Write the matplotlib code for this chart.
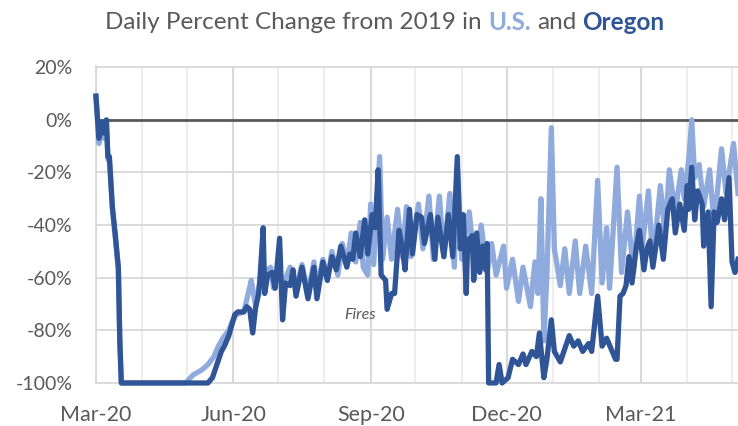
import pandas as pd
import matplotlib
matplotlib.use("Agg")
import matplotlib.pyplot as plt
import matplotlib.dates as mdates

# days since 2020-03-01, percent change vs 2019
or_days = [0, 2, 4, 5, 7, 8, 9, 11, 13, 15, 16, 17, 75, 78, 81, 84, 86, 89, 91, 93,
           95, 99, 101, 103, 105, 107, 109, 110, 112, 113, 115, 118, 120, 123, 125, 127, 130, 132, 134, 138,
           142, 146, 148, 152, 155, 158, 161, 164, 168, 170, 172, 174, 177, 180, 182, 185, 187, 189, 191, 194,
           195, 198, 200, 203, 205, 207, 210, 212, 215, 218, 220, 224, 227, 229, 233, 236, 239, 242, 244, 246,
           248, 249, 252, 253, 255, 257, 259, 261, 262, 263, 268, 270, 272, 276, 279, 283, 286, 288, 292, 295,
           297, 300, 302, 305, 307, 311, 314, 317, 320, 323, 326, 330, 332, 336, 339, 342, 345, 348, 349, 351,
           353, 355, 357, 359, 362, 364, 367, 369, 371, 373, 377, 380, 383, 386, 388, 391, 394, 396, 397, 399,
           401, 403, 406, 407, 410, 412, 414, 416, 419, 421, 424, 426, 428, 430]
or_vals = [9, -7, -1, -5, 0, -14, -14, -33, -44, -56, -84, -100, -100, -98, -93, -88, -86, -82, -78, -74,
           -73, -73, -71, -72, -81, -71, -66, -59, -41, -66, -59, -58, -64, -45, -76, -62, -63, -57, -67, -56,
           -68, -56, -68, -54, -61, -52, -57, -48, -56, -51, -53, -43, -52, -38, -51, -36, -41, -19, -59, -61,
           -72, -66, -66, -42, -48, -57, -34, -51, -36, -37, -47, -36, -53, -37, -52, -36, -52, -14, -49, -36,
           -66, -46, -44, -61, -43, -58, -48, -57, -47, -100, -100, -93, -100, -98, -91, -93, -89, -93, -88, -90,
           -81, -98, -91, -76, -88, -92, -87, -82, -86, -84, -88, -85, -88, -67, -86, -83, -87, -91, -91, -67,
           -66, -63, -52, -62, -48, -42, -57, -49, -46, -56, -40, -53, -34, -30, -43, -32, -42, -25, -34, -18,
           -38, -27, -32, -48, -35, -71, -35, -39, -30, -38, -22, -54, -58, -53]

us_days = [0, 2, 4, 5, 7, 8, 9, 11, 13, 15, 16, 17, 60, 65, 71, 75, 79, 82, 85, 89,
           91, 94, 99, 102, 104, 107, 110, 113, 117, 119, 122, 125, 130, 134, 138, 142, 146, 148, 152, 155,
           158, 162, 165, 168, 171, 174, 177, 179, 182, 184, 186, 190, 192, 195, 198, 202, 205, 208, 211, 216,
           219, 223, 226, 230, 233, 237, 240, 242, 245, 250, 254, 258, 262, 265, 268, 273, 275, 279, 283, 286,
           291, 294, 296, 298, 300, 302, 305, 307, 311, 314, 317, 321, 324, 328, 332, 336, 339, 342, 344, 349,
           352, 356, 360, 364, 366, 370, 373, 378, 381, 384, 388, 392, 394, 397, 399, 401, 404, 407, 411, 414,
           419, 422, 427, 430]
us_vals = [9, -9, -2, -7, -1, -15, -15, -34, -45, -57, -85, -100, -100, -97, -95, -93, -90, -86, -83, -80,
           -77, -74, -73, -66, -61, -71, -61, -58, -56, -64, -58, -63, -56, -64, -55, -66, -54, -64, -53, -61,
           -50, -59, -47, -55, -43, -54, -39, -56, -59, -32, -55, -14, -53, -37, -53, -34, -52, -33, -52, -32,
           -49, -29, -53, -29, -52, -28, -56, -18, -53, -35, -57, -40, -58, -47, -59, -48, -64, -53, -69, -56,
           -71, -54, -66, -30, -84, -59, -3, -49, -63, -49, -66, -46, -66, -48, -66, -23, -62, -41, -64, -18,
           -58, -35, -58, -29, -48, -27, -54, -25, -43, -19, -35, -19, -30, -15, 0, -22, -17, -33, -19, -40,
           -11, -28, -9, -28]

y_ticks = [20, 0, -20, -40, -60, -80, -100]
x_ticks = ["2020-03-01", "2020-06-01", "2020-09-01", "2020-12-01", "2021-03-01"]
x_labels = ["Mar-20", "Jun-20", "Sep-20", "Dec-20", "Mar-21"]

US_COL = "#8FAADC"
OR_COL = "#2F5597"
TXT = "#595959"

plt.rcParams["font.family"] = ["Lato", "DejaVu Sans"]

start = pd.Timestamp("2020-03-01")
or_dates = start + pd.to_timedelta(or_days, unit="D")
us_dates = start + pd.to_timedelta(us_days, unit="D")

fig = plt.figure(figsize=(7.38, 4.26), dpi=100)
ax = fig.add_axes([0.130, 0.101, 0.870, 0.745])

ax.plot(us_dates, us_vals, color=US_COL, lw=3.8, solid_joinstyle="round", zorder=3, clip_on=False)
ax.plot(or_dates, or_vals, color=OR_COL, lw=3.8, solid_joinstyle="round", zorder=4, clip_on=False)
ax.axhline(0, color=TXT, lw=2, zorder=2)

ax.set_xlim(start, start + pd.Timedelta(days=430))
ax.set_ylim(-100, 20.6)
ax.set_yticks(y_ticks)
ax.set_yticklabels([f"{v}%" for v in y_ticks])
ax.set_xticks(pd.to_datetime(x_ticks))
ax.set_xticklabels(x_labels)
ax.xaxis.set_minor_locator(mdates.MonthLocator())

ax.grid(which="major", axis="y", color="#d9d9d9", lw=1.3, zorder=0)
ax.grid(which="major", axis="x", color="#d9d9d9", lw=1.5, zorder=0)
ax.grid(which="minor", axis="x", color="#eeeeee", lw=1.5, zorder=0)
ax.set_axisbelow(True)

for s in ["top", "right"]:
    ax.spines[s].set_visible(False)
for s in ["left", "bottom"]:
    ax.spines[s].set_color("#d9d9d9")
    ax.spines[s].set_linewidth(1.3)

ax.tick_params(which="both", length=0, labelcolor=TXT)
ax.tick_params(axis="y", pad=17, labelsize=14)
ax.tick_params(axis="x", pad=16, labelsize=15.5)

ax.text(start + pd.Timedelta(days=177), -74, "Fires", style="italic", color=TXT,
        fontsize=11.5, ha="center", va="center")

# title in pieces so the two region names get their own colours
parts = [("Daily Percent Change from 2019 in", TXT, "normal"),
         ("U.S.", US_COL, "bold"),
         ("and", TXT, "normal"),
         ("Oregon", OR_COL, "bold")]
tsize = 17.5
renderer = fig.canvas.get_renderer()
probe = fig.text(0, 0, "a a", fontsize=tsize)
probe2 = fig.text(0, 0, "aa", fontsize=tsize)
space = (probe.get_window_extent(renderer).width - probe2.get_window_extent(renderer).width)
probe.remove()
probe2.remove()

pieces = []
widths = []
for s, c, w in parts:
    t = fig.text(0, 0.948, s, color=c, fontweight=w, fontsize=tsize, ha="left", va="center")
    pieces.append(t)
    widths.append(t.get_window_extent(renderer).width)
total = sum(widths) + space * (len(parts) - 1)
figw = fig.get_figwidth() * fig.dpi
x = 385 - total / 2
for t, w in zip(pieces, widths):
    t.set_x(x / figw)
    x += w + space

fig.savefig("out.png", dpi=100)
